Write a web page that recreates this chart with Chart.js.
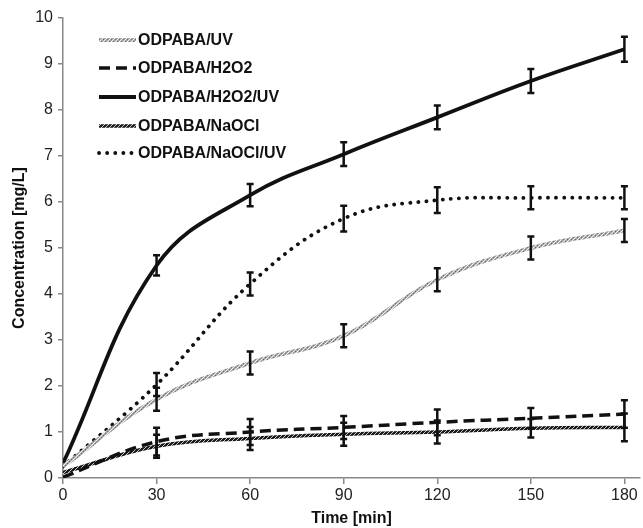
<!DOCTYPE html>
<html>
<head>
<meta charset="utf-8">
<script src="https://cdn.jsdelivr.net/npm/chart.js@4.4.1/dist/chart.umd.min.js"></script>
<style>
  body { margin: 0; background: #fff; }
  #wrap { width: 643px; height: 528px; position: relative; }
</style>
</head>
<body>
<div id="wrap"><canvas id="chart"></canvas></div>
<script>
// Concentration over time
const times = [0, 30, 60, 90, 120, 150, 180];
const xTicks = [0, 30, 60, 90, 120, 150, 180];
const yTicks = [0, 1, 2, 3, 4, 5, 6, 7, 8, 9, 10];

const seriesNames = ['ODPABA/UV', 'ODPABA/H2O2', 'ODPABA/H2O2/UV', 'ODPABA/NaOCl', 'ODPABA/NaOCl/UV'];

const uv        = [0.25, 1.71, 2.50, 3.09, 4.31, 5.00, 5.38];
const h2o2      = [0.02, 0.79, 1.00, 1.10, 1.21, 1.30, 1.39];
const h2o2uv    = [0.32, 4.62, 6.15, 7.04, 7.84, 8.63, 9.32];
const naocl     = [0.12, 0.69, 0.86, 0.95, 1.00, 1.08, 1.10];
const naocluv   = [0.25, 2.03, 4.22, 5.64, 6.04, 6.09, 6.09];

const uvErr      = [0, 0.25, 0.25, 0.25, 0.25, 0.25, 0.25];
const h2o2Err    = [0, 0.30, 0.28, 0.25, 0.28, 0.22, 0.30];
const h2o2uvErr  = [0, 0.22, 0.24, 0.26, 0.26, 0.26, 0.27];
const naoclErr   = [0, 0.25, 0.25, 0.25, 0.25, 0.20, 0.30];
const naocluvErr = [0, 0.25, 0.25, 0.28, 0.28, 0.25, 0.25];

const FONT = '"Liberation Sans", Arial, sans-serif';

function makePattern(base, spot, dark) {
  const p = document.createElement('canvas');
  p.width = 4; p.height = 4;
  const g = p.getContext('2d');
  g.fillStyle = base; g.fillRect(0, 0, 4, 4);
  g.fillStyle = spot;
  g.fillRect(0, 0, 1, 1); g.fillRect(2, 2, 1, 1);
  g.fillRect(1, 3, 1, 1); g.fillRect(3, 1, 1, 1);
  if (dark) {
    g.fillStyle = dark;
    g.fillRect(1, 1, 1, 1); g.fillRect(3, 3, 1, 1);
  }
  return g.createPattern(p, 'repeat');
}

const ctx = document.getElementById('chart').getContext('2d');
const grayHatch = makePattern('#a8a8a8', '#f0f0f0', '#707070');
const darkHatch = makePattern('#1a1a1a', '#c8c8c8', null);

const toPts = arr => times.map((t, i) => ({x: t, y: arr[i]}));

const datasets = [
  {label: seriesNames[0], data: toPts(uv), err: uvErr, borderColor: grayHatch, borderWidth: 4},
  {label: seriesNames[1], data: toPts(h2o2), err: h2o2Err, borderColor: '#111', borderWidth: 3.5, borderDash: [11, 6]},
  {label: seriesNames[2], data: toPts(h2o2uv), err: h2o2uvErr, borderColor: '#111', borderWidth: 3.8},
  {label: seriesNames[3], data: toPts(naocl), err: naoclErr, borderColor: darkHatch, borderWidth: 3.5},
  {label: seriesNames[4], data: toPts(naocluv), err: naocluvErr, borderColor: '#111', borderWidth: 3.8, borderDash: [0.1, 8], borderCapStyle: 'round'}
].map(d => Object.assign({pointRadius: 0, tension: 0.4, fill: false}, d));

const errorBars = {
  id: 'errorBars',
  afterDatasetsDraw(chart) {
    const {ctx, scales: {x, y}} = chart;
    ctx.save();
    ctx.strokeStyle = '#111';
    ctx.lineWidth = 2.5;
    ctx.setLineDash([]);
    chart.data.datasets.forEach(ds => {
      ds.data.forEach((p, i) => {
        const e = ds.err[i];
        if (!e) return;
        const px = x.getPixelForValue(p.x);
        const top = y.getPixelForValue(p.y + e);
        const bot = y.getPixelForValue(p.y - e);
        ctx.beginPath();
        ctx.moveTo(px, top); ctx.lineTo(px, bot);
        ctx.moveTo(px - 3.5, top); ctx.lineTo(px + 3.5, top);
        ctx.moveTo(px - 3.5, bot); ctx.lineTo(px + 3.5, bot);
        ctx.stroke();
      });
    });
    ctx.restore();
  }
};

const insideLegend = {
  id: 'insideLegend',
  afterDraw(chart) {
    const {ctx} = chart;
    const rows = [40, 68, 97, 126, 153];
    ctx.save();
    ctx.font = 'bold 16px ' + FONT;
    ctx.textBaseline = 'middle';
    chart.data.datasets.forEach((ds, i) => {
      const yy = rows[i];
      ctx.strokeStyle = ds.borderColor;
      ctx.lineWidth = ds.borderWidth;
      ctx.lineCap = ds.borderCapStyle || 'butt';
      ctx.setLineDash(ds.borderDash || []);
      ctx.beginPath();
      ctx.moveTo(99, yy); ctx.lineTo(136, yy);
      ctx.stroke();
      ctx.setLineDash([]);
      ctx.fillStyle = '#111';
      ctx.fillText(ds.label, 138, yy + 1);
    });
    ctx.restore();
  }
};

new Chart(ctx, {
  type: 'line',
  data: {datasets},
  plugins: [errorBars, insideLegend],
  options: {
    responsive: true, maintainAspectRatio: false, animation: false,
    layout: {padding: {top: 18, right: 3, left: 10, bottom: 0}},
    plugins: {legend: {display: false}, tooltip: {enabled: false}},
    scales: {
      x: {
        type: 'linear', min: 0, max: 185,
        afterBuildTicks: s => { s.ticks = xTicks.map(v => ({value: v})); },
        afterFit: s => { s.height = 50; },
        grid: {drawOnChartArea: false, drawTicks: true, tickLength: 6, color: '#888', lineWidth: 1.5},
        border: {color: '#888', width: 1.5},
        ticks: {color: '#222', font: {size: 16, family: FONT}, padding: 2, maxRotation: 0},
        title: {display: true, text: 'Time [min]', color: '#111', font: {size: 16, weight: 'bold', family: FONT}, padding: {top: 0, bottom: 0}}
      },
      y: {
        min: 0, max: 10,
        afterBuildTicks: s => { s.ticks = yTicks.map(v => ({value: v})); },
        afterFit: s => { s.width = 53; },
        grid: {drawOnChartArea: false, drawTicks: true, tickLength: 5, color: '#888', lineWidth: 1.5},
        border: {color: '#888', width: 1.5},
        ticks: {color: '#222', font: {size: 16, family: FONT}, padding: 5},
        title: {display: true, text: 'Concentration [mg/L]', color: '#111', font: {size: 16, weight: 'bold', family: FONT}, padding: {top: 0, bottom: 0}}
      }
    }
  }
});
</script>
</body>
</html>
